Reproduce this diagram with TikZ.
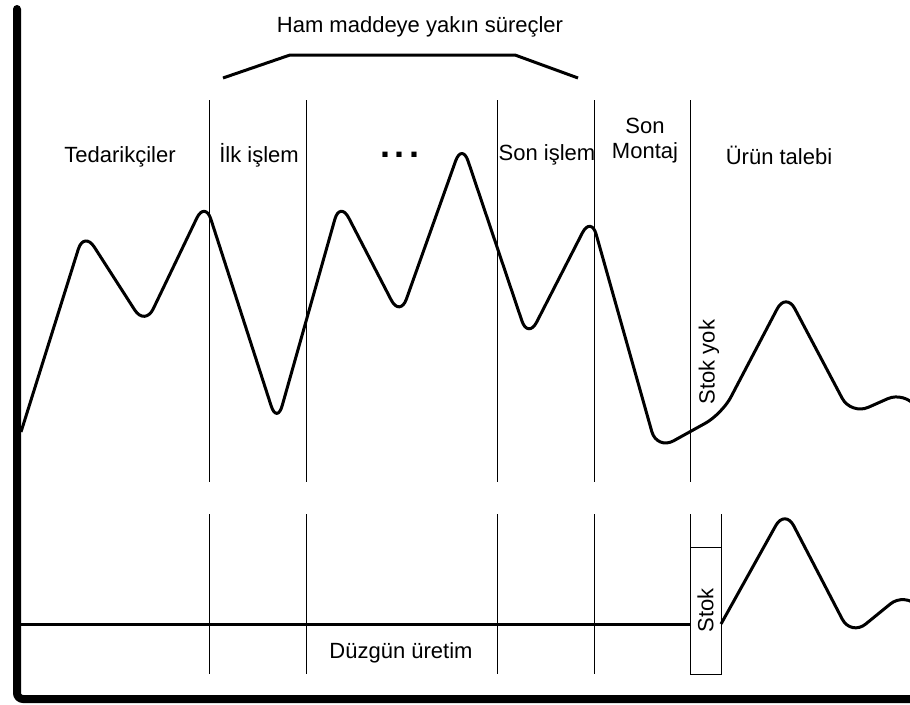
\documentclass[tikz,border=0pt]{standalone}
\usepackage{fontspec}
\setmainfont{Liberation Sans}
\usetikzlibrary{positioning}
\tikzset{
  axisline/.style={line width=8pt,line cap=round,rounded corners=6pt},
  divline/.style={line width=1pt},
  flowcurve/.style={line width=3pt,rounded corners=19pt,line join=round},
  flatline/.style={line width=3pt},
  brackline/.style={line width=3pt},
  lbl/.style={font=\fontsize{22}{25}\selectfont,inner sep=0pt,align=center},
  stokbox/.style={draw,line width=1pt,minimum width=127pt,minimum height=31pt,
    inner sep=0pt,font=\fontsize{22}{25}\selectfont},
}
\begin{document}
\begin{tikzpicture}[x=1pt,y=-1pt]
  \useasboundingbox (0,0) rectangle (910,704);
  \begin{scope}
    \clip (0,0) rectangle (910,704);
    % axes
    \draw[axisline] (17,9) -- (17,699) -- (930,699);
    % stage borders
    \foreach \x in {209,306,497,594,690} {
      \draw[divline] (\x,100) -- (\x,482);
      \draw[divline] (\x,514) -- (\x,674);
    }
    \draw[divline] (721,514) -- (721,547);
    \node[stokbox,rotate=90] (stok) at (705.5,610.5) {Stok};
    % bracket over raw material stages
    \draw[brackline] (223,78) -- (290,55) -- (515,55) -- (578,78);
    % demand curves
    \draw[flowcurve] (21,432) -- (84,231) -- (145,326) -- (205,201)
      -- (277,424) -- (340,201) -- (400,317) -- (462,143) -- (528,339)
      -- (591,216) -- (657,450) -- (722,414) -- (786,292) -- (851,415)
      -- (905,391) -- (925,420);
    \draw[flatline] (21,624) -- (690,624);
    \draw[flowcurve] (721,624) -- (785,509) -- (851,636) -- (905,592)
      -- (930,620);
  \end{scope}
  % labels
  \node[lbl] (title) at (420,27) {Ham maddeye yakın süreçler};
  \node[lbl] (tedarik) at (120,157) {Tedarikçiler};
  \node[lbl] (ilk) at (259,155) {İlk işlem};
  \node[lbl,anchor=base,font=\fontsize{36}{36}\selectfont\bfseries] (dots)
    at (400,157) {.\hspace{5pt}.\hspace{5pt}.};
  \node[lbl] (sonis) at (547,155) {Son işlem};
  \node[lbl] (montaj) at (645,141) {Son\\Montaj};
  \node[lbl] (talep) at (779,155) {Ürün talebi};
  \node[lbl,rotate=90] (stokyok) at (709,362) {Stok yok};
  \node[lbl] (duzgun) at (401,653) {Düzgün üretim};
\end{tikzpicture}
\end{document}
